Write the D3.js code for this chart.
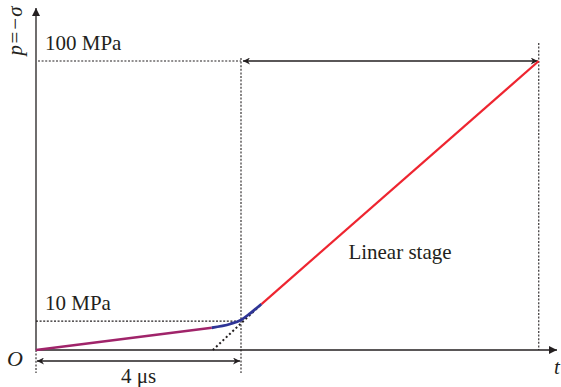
<!DOCTYPE html>
<html>
<head>
<meta charset="utf-8">
<script src="https://cdn.jsdelivr.net/npm/d3@7"></script>
<style>
  body { margin: 0; background: #fff; }
</style>
</head>
<body>
<div id="container"></div>
<script>
const WIDTH = 561;
const HEIGHT = 387;
const FONT = "'Liberation Serif', 'Times New Roman', 'DejaVu Serif', serif";

// time in microseconds, pressure in MPa
var earlyT = [0, 3.43];
var earlyP = [0, 7.7];
var bendT = [3.43, 3.79, 4.0, 4.18, 4.40];
var bendP = [7.7, 9.0, 10.4, 12.7, 15.9];
var linearT = [4.40, 9.81];
var linearP = [15.9, 100];
var tangentT = [3.45, 4.40];
var tangentP = [0, 15.9];
var levelLabels = ["10 MPa", "100 MPa"];
var levelValues = [10, 100];
var markT = [4, 9.81];

var zip = function (a, b) {
    return a.map(function (v, i) { return {t: v, p: b[i]}; });
};

var createChart = function () {
    var svg = d3.select("#container")
        .append("svg")
        .attr("width", WIDTH)
        .attr("height", HEIGHT);

    var x = d3.scaleLinear().domain([0, 10]).range([36, 548.5]);
    var y = d3.scaleLinear().domain([0, 100]).range([350, 61]);

    var defs = svg.append("defs");
    defs.append("marker")
        .attr("id", "axisHead")
        .attr("viewBox", "0 0 10 10")
        .attr("refX", 10).attr("refY", 5)
        .attr("markerWidth", 18).attr("markerHeight", 8)
        .attr("markerUnits", "userSpaceOnUse")
        .attr("orient", "auto")
        .append("path")
        .attr("d", "M0,0 L10,5 L0,10 Z")
        .attr("fill", "#231f20");
    defs.append("marker")
        .attr("id", "arrowS")
        .attr("viewBox", "0 0 10 10")
        .attr("refX", 10).attr("refY", 5)
        .attr("markerWidth", 12).attr("markerHeight", 7)
        .attr("markerUnits", "userSpaceOnUse")
        .attr("orient", "auto-start-reverse")
        .append("path")
        .attr("d", "M0,0 L10,5 L0,10 L3,5 Z")
        .attr("fill", "#231f20");

    var dotted = {stroke: "#231f20", "stroke-width": 1.1, "stroke-dasharray": "2,1.6"};
    var addLine = function (x1, y1, x2, y2, style) {
        var l = svg.append("line")
            .attr("x1", x1).attr("y1", y1).attr("x2", x2).attr("y2", y2);
        for (var k in style) l.attr(k, style[k]);
        return l;
    };

    // guide lines
    addLine(x(0), y(10), x(4), y(10), dotted);
    addLine(x(0) + 2, y(100), x(4), y(100), dotted);
    addLine(x(markT[0]), y(100) - 3, x(markT[0]), 373, dotted);
    addLine(x(markT[1]), 43, x(markT[1]), y(0), dotted);
    addLine(x(0), y(0), x(0), 373, dotted);

    // axes
    addLine(x(0), y(0), x(0), 8, {stroke: "#231f20", "stroke-width": 1.3})
        .attr("marker-end", "url(#axisHead)");
    addLine(x(0), y(0), 557, y(0), {stroke: "#231f20", "stroke-width": 1.3})
        .attr("marker-end", "url(#axisHead)");

    // dimension arrows
    addLine(x(0) + 1, 361, x(markT[0]) - 1, 361, {stroke: "#231f20", "stroke-width": 1.3})
        .attr("marker-start", "url(#arrowS)")
        .attr("marker-end", "url(#arrowS)");
    addLine(x(markT[0]) + 2, y(100), x(markT[1]) - 1, y(100), {stroke: "#231f20", "stroke-width": 1.3})
        .attr("marker-start", "url(#arrowS)")
        .attr("marker-end", "url(#arrowS)");

    var line = d3.line()
        .x(function (d) { return x(d.t); })
        .y(function (d) { return y(d.p); });

    // tangent
    svg.append("path")
        .attr("d", line(zip(tangentT, tangentP)))
        .attr("stroke", "#231f20")
        .attr("stroke-width", 2)
        .attr("stroke-dasharray", "2,2.5")
        .attr("fill", "none");

    svg.append("path")
        .attr("d", line(zip(earlyT, earlyP)))
        .attr("stroke", "#a0246a")
        .attr("stroke-width", 2.5)
        .attr("fill", "none");

    svg.append("path")
        .attr("d", d3.line()
            .x(function (d) { return x(d.t); })
            .y(function (d) { return y(d.p); })
            .curve(d3.curveMonotoneX)(zip(bendT, bendP)))
        .attr("stroke", "#2f3596")
        .attr("stroke-width", 2.8)
        .attr("fill", "none");

    svg.append("path")
        .attr("d", line(zip(linearT, linearP)))
        .attr("stroke", "#ee2530")
        .attr("stroke-width", 2.2)
        .attr("fill", "none");

    // labels
    var label = function (tx, ty, str, size) {
        return svg.append("text")
            .attr("x", tx).attr("y", ty)
            .attr("font-family", FONT)
            .attr("font-size", size)
            .attr("fill", "#231f20")
            .text(str);
    };

    svg.selectAll(".lvl").data(levelValues)
        .enter().append("text")
        .attr("x", 45)
        .attr("y", function (d) { return y(d) - 11; })
        .attr("font-family", FONT)
        .attr("font-size", 21)
        .attr("fill", "#231f20")
        .text(function (d, i) { return levelLabels[i]; });

    label(x(2), 383, "4 μs", 21).attr("text-anchor", "middle");
    label(400, 259, "Linear stage", 21).attr("text-anchor", "middle");
    label(7, 366, "O", 22).attr("font-style", "italic");
    label(554, 374, "t", 21).attr("font-style", "italic");
    label(0, 0, "p=−σ", 21)
        .attr("transform", translate(22, 31) + " rotate(-90)")
        .attr("text-anchor", "middle")
        .attr("font-style", "italic");
};

var translate = function (x, y) {
    return "translate(" + x + "," + y + ")";
};

window.onload = createChart;
</script>
</body>
</html>
